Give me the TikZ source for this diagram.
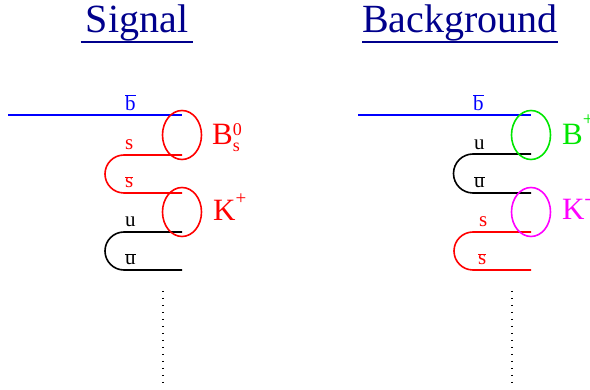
\documentclass[tikz,border=0pt]{standalone}
\usepackage{fontspec}
\setmainfont{Liberation Serif}
\definecolor{titleblue}{RGB}{0,0,140}
\definecolor{bgreen}{RGB}{0,230,0}
\definecolor{bmagenta}{RGB}{255,0,255}
\newcommand{\obar}[1]{$\overline{\hbox{#1}}$}
\newcommand{\rsup}[2]{\raisebox{#1}{\fontsize{19}{19}\selectfont #2}}
\begin{document}
\begin{tikzpicture}[x=1pt,y=-1pt,
  title/.style={font=\fontsize{40}{40}\selectfont, text=titleblue, inner sep=0pt, anchor=base},
  titleline/.style={draw=titleblue, line width=2.2pt},
  quark/.style={line width=1.6pt},
  hadron/.style={line width=1.6pt},
  qlabel/.style={font=\fontsize{21}{21}\selectfont, inner sep=0pt, anchor=base west},
  hlabel/.style={font=\fontsize{31}{31}\selectfont, inner sep=0pt, anchor=base west},
  dots/.style={line width=1.2pt, dash pattern=on 1.2pt off 5.8pt}
]
\useasboundingbox (0,0) rectangle (590,390);
% ---------- Signal ----------
\node[title] (sig) at (137,33) {Signal};
\draw[titleline] ([xshift=-5pt,yshift=-9pt]sig.base west) -- ([xshift=5pt,yshift=-9pt]sig.base east);

\coordinate (sb1) at (8,115);   \coordinate (sb2) at (182,115);
\draw[quark, blue] (sb1) -- (sb2);
\node[qlabel, text=blue] (sbl) at (125,111) {\obar{b}};

\coordinate (ss1) at (182,155); \coordinate (ss2) at (182,193);
\draw[quark, red] (ss1) -- (124,155) arc[start angle=270, end angle=90, radius=19] -- (ss2);
\node[qlabel, text=red] (ssl) at (125,150) {s};
\node[qlabel, text=red] (ssbl) at (125,188) {\obar{s}};

\coordinate (su1) at (182,232); \coordinate (su2) at (182,270);
\draw[quark, black] (su1) -- (124,232) arc[start angle=270, end angle=90, radius=19] -- (su2);
\node[qlabel] (sul) at (125,227) {u};
\node[qlabel] (subl) at (125,265) {\obar{u}};

\draw[hadron, red] (182,135) ellipse[x radius=19.5, y radius=24.5];
\draw[hadron, red] (182,212) ellipse[x radius=19.5, y radius=24.5];
\node[hlabel, text=red] (bs) at (212,145) {B$^{\hbox{\fontsize{18}{18}\selectfont 0}}_{\hbox{\fontsize{18}{18}\selectfont s}}$};
\node[hlabel, text=red] (kp) at (213,221) {K\rsup{16pt}{+}};

\coordinate (sd1) at (163,291); \coordinate (sd2) at (163,385);
\draw[dots] (sd1) -- (sd2);

% ---------- Background ----------
\node[title] (bkg) at (460,33) {Background};
\draw[titleline] ([yshift=-9pt]bkg.base west) -- ([yshift=-9pt]bkg.base east);

\coordinate (bb1) at (358,115); \coordinate (bb2) at (531,115);
\draw[quark, blue] (bb1) -- (bb2);
\node[qlabel, text=blue] (bbl) at (473,111) {\obar{b}};

\coordinate (bu1) at (531,154); \coordinate (bu2) at (531,193);
\draw[quark, black] (bu1) -- (473,154) arc[start angle=270, end angle=90, radius=19.5] -- (bu2);
\node[qlabel] (bul) at (474,150) {u};
\node[qlabel] (bubl) at (474,188) {\obar{u}};

\coordinate (bs1) at (531,232); \coordinate (bs2) at (531,270);
\draw[quark, red] (bs1) -- (473,232) arc[start angle=270, end angle=90, radius=19] -- (bs2);
\node[qlabel, text=red] (bsl) at (479,227) {s};
\node[qlabel, text=red] (bsbl) at (478,265) {\obar{s}};

\draw[hadron, bgreen] (531,135) ellipse[x radius=19.5, y radius=24.5];
\draw[hadron, bmagenta] (531,212) ellipse[x radius=19.5, y radius=24.5];
\node[hlabel, text=bgreen] (bp) at (562,145) {B\rsup{19pt}{+}};
\node[hlabel, text=bmagenta] (km) at (562,220) {K\rsup{15pt}{-}};

\coordinate (bd1) at (512,291); \coordinate (bd2) at (512,385);
\draw[dots] (bd1) -- (bd2);
\end{tikzpicture}
\end{document}
